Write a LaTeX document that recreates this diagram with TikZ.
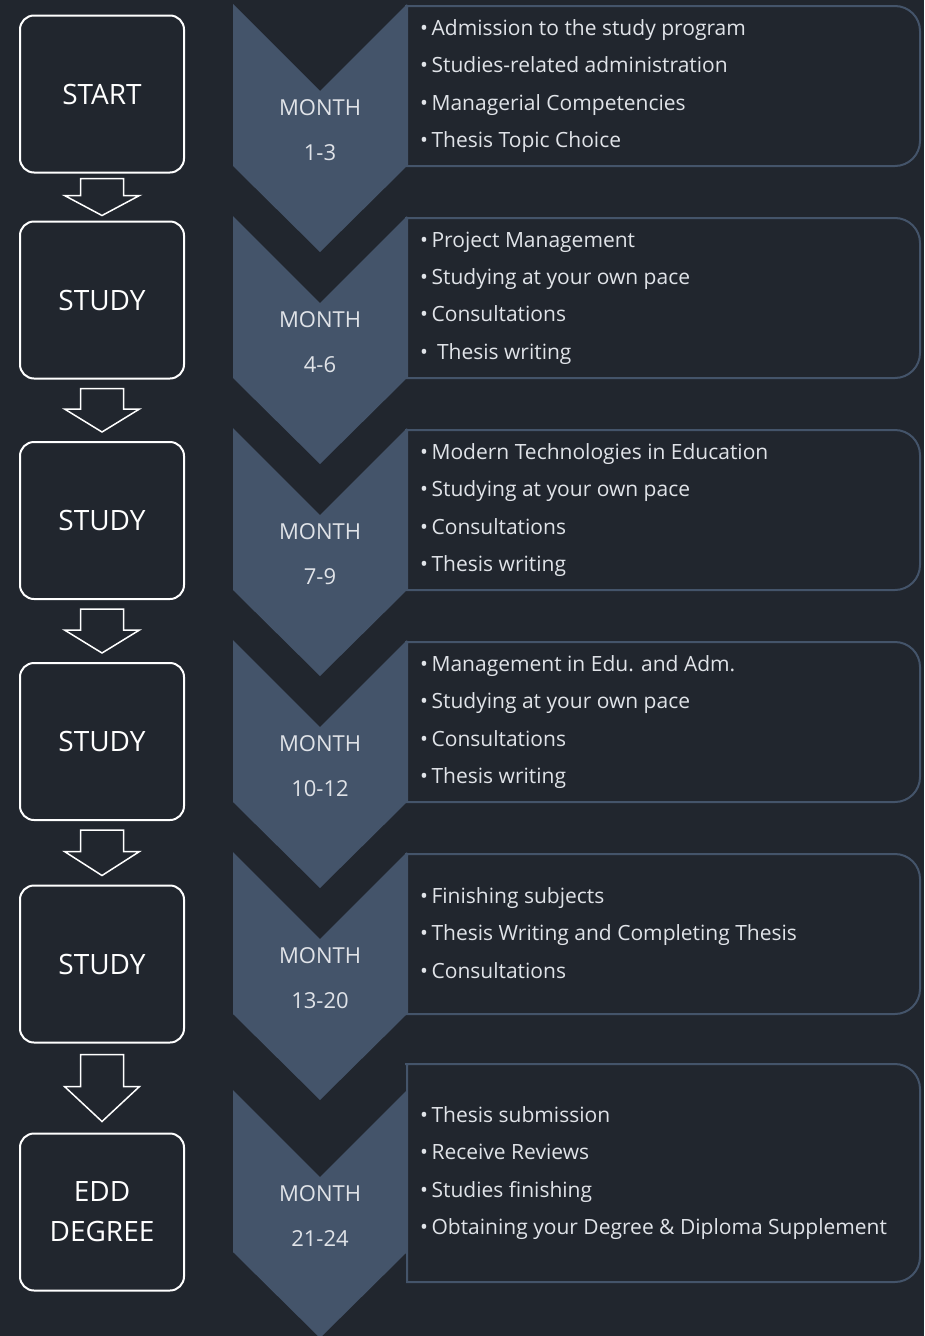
\documentclass[tikz,border=0pt]{standalone}
\usepackage{fontspec}
\setmainfont{Open Sans}
\usepackage{xcolor}
\usetikzlibrary{calc}

\definecolor{sfondo}{RGB}{33,38,46}
\definecolor{grigioblu}{RGB}{68,84,106}
\definecolor{testochiaro}{RGB}{224,227,232}

\begin{document}
\begin{tikzpicture}[x=1pt, y=-1pt,
        fase/.style={draw=white, line width=2pt, rounded corners=14pt,
            minimum width=164pt, minimum height=157pt, text=white,
            font=\fontsize{28}{40}\selectfont, align=center},
        freccia/.style={draw=white, line width=1.5pt, line join=miter},
        mese/.style={text=testochiaro, font=\fontsize{22}{45}\selectfont, align=center},
        riquadro/.style={draw=grigioblu, line width=2pt},
        elenco/.style={text=testochiaro, font=\fontsize{21}{37.3}\selectfont,
            align=left, anchor=west, inner sep=0pt}]
        % Sfondo
        \useasboundingbox (0,0) rectangle (924,1336);
        \fill[sfondo] (0,0) rectangle (924,1336);
        
        % Fasi a sinistra
        \node[fase] (start) at (102,94) {START};
        \node[fase] (study1) at (102,300) {STUDY};
        \node[fase] (study2) at (102,520.5) {STUDY};
        \node[fase] (study3) at (102,741.5) {STUDY};
        \node[fase] (study4) at (102,964) {STUDY};
        \node[fase] (degree) at (102,1212) {EDD\\DEGREE};
        
        % Frecce vuote tra le fasi (distanza, altezza punta)
        \foreach \da/\a/\g/\h in {start/study1/5/20, study1/study2/9/23,
            study2/study3/9/23, study3/study4/9/24, study4/degree/11/35} {
            \draw[freccia] let \p1=(\da.south), \p2=(\a.north) in
            (\x1-21.5pt,\y1-\g*1pt) -- (\x1+21.5pt,\y1-\g*1pt) --
            (\x1+21.5pt,\y2+\g*1pt+\h*1pt) -- (\x1+37.5pt,\y2+\g*1pt+\h*1pt) --
            (\x1,\y2+\g*1pt) --
            (\x1-37.5pt,\y2+\g*1pt+\h*1pt) -- (\x1-21.5pt,\y2+\g*1pt+\h*1pt) -- cycle;
        }
        
        % Chevron dei mesi
        \foreach \t/\n [count=\i] in {4/1-3, 216/4-6, 428/7-9, 640/10-12, 852/13-20, 1090/21-24} {
            \fill[grigioblu] (233,\t) -- (320,\t+87) -- (407,\t) -- (407,\t+162) --
            (320,\t+248) -- (233,\t+162) -- cycle;
            \node[mese] (mese\i) at (320,\t+126) {MONTH\\\n};
        }
        
        % Riquadri delle attivita
        \foreach \t/\b in {6/166, 218/378, 430/590, 642/802, 854/1014, 1064/1282} {
            \draw[riquadro] (430,\t) -- (407,\t) -- (407,\b) -- (430,\b)
            [rounded corners=25pt] -- (920,\b) -- (920,\t) -- cycle;
        }
        
        % Elenchi
        \node[elenco] (voci1) at (420,86) {•\,Admission to the study program\\
            •\,Studies-related administration\\•\,Managerial Competencies\\•\,Thesis Topic Choice};
        \node[elenco] (voci2) at (420,298) {•\,Project Management\\
            •\,Studying at your own pace\\•\,Consultations\\•\ \,Thesis writing};
        \node[elenco] (voci3) at (420,510) {•\,Modern Technologies in Education\\
            •\,Studying at your own pace\\•\,Consultations\\•\,Thesis writing};
        \node[elenco] (voci4) at (420,722) {•\,Management in Edu. and Adm.\\
            •\,Studying at your own pace\\•\,Consultations\\•\,Thesis writing};
        \node[elenco] (voci5) at (420,933) {•\,Finishing subjects\\
            •\,Thesis Writing and Completing Thesis\\•\,Consultations};
        \node[elenco] (voci6) at (420,1173) {•\,Thesis submission\\
            •\,Receive Reviews\\•\,Studies finishing\\•\,Obtaining your Degree \& Diploma Supplement};
        
    \end{tikzpicture}
\end{document}
